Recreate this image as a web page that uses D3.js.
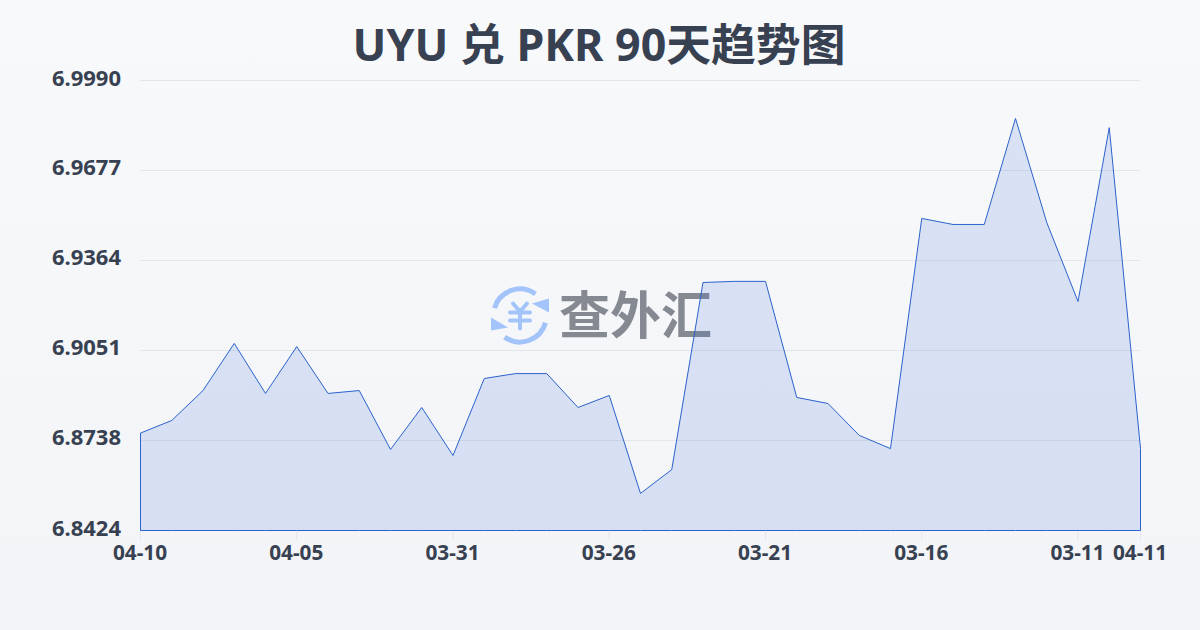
<!DOCTYPE html>
<html><head><meta charset="utf-8">
<script src="https://cdnjs.cloudflare.com/ajax/libs/d3/7.8.5/d3.min.js"></script>
<style>html,body{margin:0;padding:0;background:#f5f6f9}svg{display:block}</style>
</head><body><svg id="c" width="1200" height="630"></svg>
<script>
const titleText = "UYU 兑 PKR 90天趋势图";
const watermarkText = "查外汇";
const categories = ["04-10","04-09","04-08","04-07","04-06","04-05","04-04","04-03","04-02","04-01","03-31","03-30","03-29","03-28","03-27","03-26","03-25","03-24","03-23","03-22","03-21","03-20","03-19","03-18","03-17","03-16","03-15","03-14","03-13","03-12","03-11","03-10","04-11"];
const rates = [6.8763,6.8807,6.8911,6.9075,6.8901,6.9064,6.8901,6.8911,6.8706,6.8852,6.8685,6.8953,6.8970,6.8970,6.8852,6.8894,6.8553,6.8636,6.9287,6.9291,6.9291,6.8887,6.8866,6.8755,6.8709,6.9510,6.9489,6.9489,6.9858,6.9496,6.9221,6.9826,6.8709];
const yTicks = [6.8424,6.8738,6.9051,6.9364,6.9677,6.9990];
const xTicks = ["04-10","04-05","03-31","03-26","03-21","03-16","03-11","04-11"];

const FONT = '"Noto Sans","Noto Sans CJK SC",sans-serif';
const CJK = '"Noto Sans CJK SC","Noto Sans",sans-serif';
const INK = "#374151";
const svg = d3.select("#c");
const defs = svg.append("defs");
const bg = defs.append("linearGradient").attr("id","bg").attr("x1",0).attr("y1",0).attr("x2",0).attr("y2",1);
bg.append("stop").attr("offset","0").attr("stop-color","#f8f9fb");
bg.append("stop").attr("offset","1").attr("stop-color","#f3f4f7");
svg.append("rect").attr("width",1200).attr("height",630).attr("fill","url(#bg)");

const x = d3.scalePoint().domain(d3.range(categories.length)).range([140.5,1140.5]);
const y = d3.scaleLinear().domain([6.8424,6.9990]).range([530.5,80.5]);

svg.append("text").attr("x",599).attr("y",61).attr("text-anchor","middle")
  .attr("font-family",FONT).attr("font-weight",700).attr("font-size",44.8).attr("fill",INK).text(titleText);

// gridlines
svg.append("g").selectAll("line").data(yTicks.slice(1)).join("line")
  .attr("x1",140).attr("x2",1140).attr("y1",d=>Math.round(y(d)-.5)+.5).attr("y2",d=>Math.round(y(d)-.5)+.5)
  .attr("stroke","#e3e6ea").attr("stroke-width",1);

// watermark
const wm = svg.append("g");
const ic = wm.append("g").attr("transform","translate(520,315.5)").attr("fill","none").attr("stroke","#a3c3fb").attr("stroke-linecap","round");
const arc = d3.arc();
ic.append("path").attr("stroke-width",5).attr("d",arc({innerRadius:26.5,outerRadius:26.5,startAngle:-1.29,endAngle:0.62}));
ic.append("path").attr("stroke-width",5).attr("d",arc({innerRadius:26.5,outerRadius:26.5,startAngle:1.85,endAngle:3.76}));
ic.append("path").attr("fill","#a3c3fb").attr("stroke","none").attr("d","M29,-17L29,-3L12,-12Z");
ic.append("path").attr("fill","#a3c3fb").attr("stroke","none").attr("d","M-29,2L-29,15L-12,12Z");
ic.append("path").attr("stroke-width",4).attr("d","M-7,-12L0,-4L7,-12M-10,-3H10M-10,5H10M0,-4V13");
wm.append("text").attr("x",559).attr("y",334).attr("font-family",CJK).attr("font-weight",700).attr("font-size",51)
  .attr("fill","#858a92").text(watermarkText);

// area
const pts = rates.map((v,i)=>[i,v]);
const area = d3.area().x(d=>x(d[0])).y0(y.range()[0]).y1(d=>y(d[1]));
svg.append("path").attr("d",area(pts)+"").attr("fill","rgba(60,110,220,.16)").attr("stroke","#2b62cc").attr("stroke-width",1).attr("stroke-linejoin","round");

// axes
const idx = []; xTicks.forEach((t,k)=>{ idx.push(k===xTicks.length-1?categories.length-1:categories.indexOf(t)); });
const xg = svg.append("g").selectAll("g").data(idx).join("g").attr("transform",d=>`translate(${x(d)-.5},0)`);
xg.append("line").attr("x1",.5).attr("x2",.5).attr("y1",531).attr("y2",540).attr("stroke","#e3e6ea");
xg.append("text").attr("y",560).attr("text-anchor","middle").attr("font-family",FONT).attr("font-weight",700)
  .attr("font-size",20.8).attr("fill",INK).text(d=>categories[d]);

svg.append("g").selectAll("text").data(yTicks).join("text")
  .attr("x",121).attr("y",d=>y(d)+5).attr("text-anchor","end").attr("font-family",FONT).attr("font-weight",700)
  .attr("font-size",22).attr("fill",INK).text(d=>d.toFixed(4));
</script></body></html>
